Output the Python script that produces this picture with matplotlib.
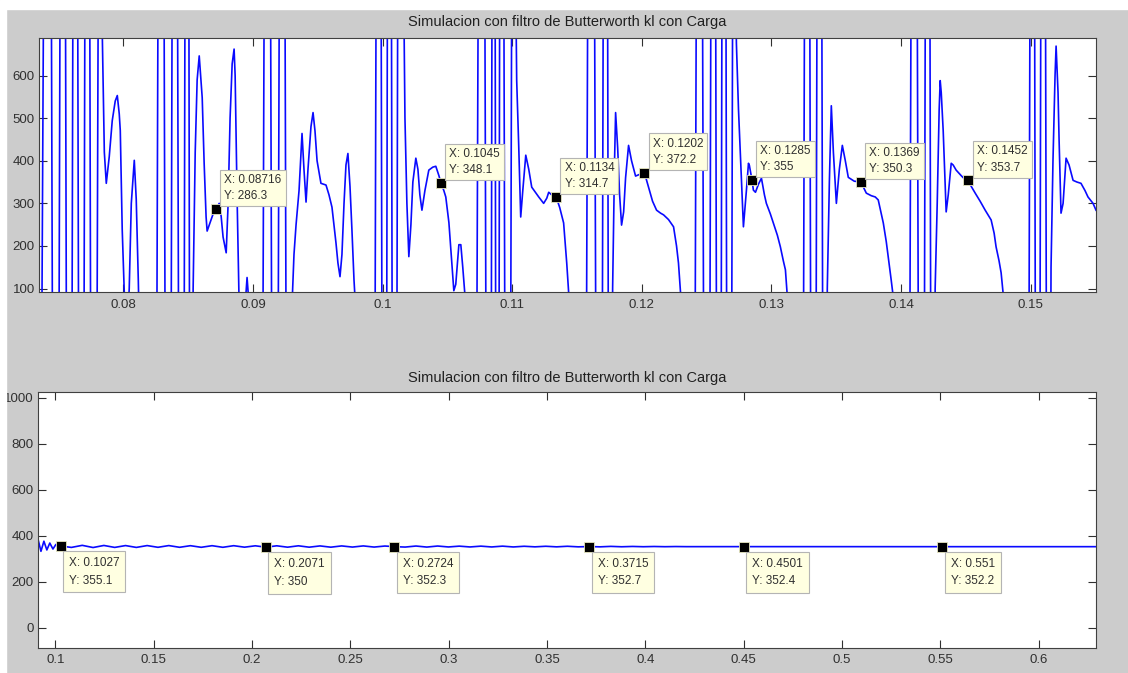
import matplotlib
matplotlib.use("Agg")
import matplotlib.pyplot as plt
from matplotlib.patches import Rectangle

plt.rcParams['font.family'] = ['Liberation Sans', 'DejaVu Sans']

title_txt = "Simulacion con filtro de Butterworth kl con Carga"

# ---- top plot: zoom on the transient (clipped ones are off scale)
t_top = [
    0.07330, 0.07422, 0.07480, 0.07534, 0.07584, 0.07630, 0.07676, 0.07723, 0.07769, 0.07815,
    0.07838, 0.07854, 0.07869, 0.07892, 0.07915, 0.07938, 0.07954, 0.07969, 0.07977, 0.07985,
    0.07992, 0.08008, 0.08023, 0.08046, 0.08062, 0.08085, 0.08100, 0.08116, 0.08131,
    0.08231, 0.08293, 0.08347, 0.08397, 0.08451, 0.08493, 0.08520, 0.08539, 0.08555, 0.08570,
    0.08586, 0.08601, 0.08609, 0.08624, 0.08639, 0.08647, 0.08670, 0.08693, 0.08716, 0.08740,
    0.08755, 0.08770, 0.08794, 0.08809, 0.08824, 0.08840, 0.08855, 0.08863, 0.08878, 0.08894,
    0.08917, 0.08940, 0.08955, 0.08971, 0.08994,
    0.09048, 0.09113, 0.09171, 0.09225, 0.09271, 0.09294, 0.09317, 0.09333, 0.09356, 0.09379,
    0.09394, 0.09410, 0.09425, 0.09448, 0.09464, 0.09479, 0.09495, 0.09525, 0.09564, 0.09587,
    0.09610, 0.09641, 0.09656, 0.09672, 0.09687, 0.09703, 0.09718, 0.09733, 0.09749, 0.09764,
    0.09780, 0.09795, 0.09818,
    0.09918, 0.09972, 0.10015, 0.10053, 0.10092, 0.10134, 0.10157, 0.10173, 0.10188, 0.10203,
    0.10219, 0.10234, 0.10257, 0.10273, 0.10288, 0.10304, 0.10327, 0.10357, 0.10388, 0.10411,
    0.10435, 0.10450, 0.10473, 0.10488, 0.10512, 0.10535, 0.10550, 0.10565, 0.10589, 0.10604,
    0.10619, 0.10642, 0.10666,
    0.10696, 0.10766, 0.10824, 0.10858, 0.10885, 0.10916, 0.10966, 0.11012, 0.11028, 0.11035,
    0.11051, 0.11066, 0.11082, 0.11105, 0.11128, 0.11151, 0.11182, 0.11205, 0.11243, 0.11267,
    0.11282, 0.11305, 0.11340, 0.11367, 0.11397, 0.11421, 0.11436, 0.11459,
    0.11544, 0.11609, 0.11675, 0.11721, 0.11752, 0.11775, 0.11790, 0.11798, 0.11814, 0.11829,
    0.11844, 0.11860, 0.11875, 0.11898, 0.11921, 0.11952, 0.11983, 0.12020, 0.12052, 0.12083,
    0.12114, 0.12145, 0.12168, 0.12206, 0.12245, 0.12268, 0.12283, 0.12299, 0.12322,
    0.12384, 0.12445, 0.12503, 0.12553, 0.12595, 0.12634, 0.12672, 0.12707, 0.12723, 0.12730,
    0.12746, 0.12769, 0.12784, 0.12807, 0.12823, 0.12830, 0.12850, 0.12861, 0.12877, 0.12900,
    0.12923, 0.12946, 0.12961, 0.12992, 0.13015, 0.13046, 0.13069, 0.13092, 0.13108, 0.13123,
    0.13146,
    0.13223, 0.13277, 0.13324, 0.13370, 0.13408, 0.13431, 0.13447, 0.13462, 0.13478, 0.13501,
    0.13524, 0.13547, 0.13570, 0.13593, 0.13639, 0.13690, 0.13732, 0.13770, 0.13801, 0.13824,
    0.13863, 0.13886, 0.13901, 0.13924, 0.13940, 0.13963,
    0.14040, 0.14102, 0.14159, 0.14206, 0.14240, 0.14263, 0.14279, 0.14294, 0.14302, 0.14310,
    0.14325, 0.14340, 0.14348, 0.14364, 0.14387, 0.14402, 0.14425, 0.14464, 0.14487, 0.14520,
    0.14541, 0.14572, 0.14610, 0.14649, 0.14695, 0.14718, 0.14733, 0.14756, 0.14772, 0.14787,
    0.14810,
    0.14964, 0.15015, 0.15053, 0.15095, 0.15134, 0.15157, 0.15172, 0.15188, 0.15196, 0.15211,
    0.15219, 0.15234, 0.15250, 0.15273, 0.15296, 0.15327, 0.15357, 0.15388, 0.15419, 0.15442,
    0.15481, 0.15504,
]
v_top = [
    -2500, 3000, -2500, 3000, -2500, 3000, -2500, 3000, -2500, 1500,
    700, 420, 347, 410, 494, 540, 553, 510, 471, 350,
    238, 90, -50, 100, 300, 401, 310, 120, -100,
    -2500, 3000, -2500, 3000, -2500, 3000, -1500, 100, 420, 590,
    646, 580, 548, 394, 268, 235, 255, 275, 286.3, 300,
    270, 221, 184, 300, 500, 627, 662, 600, 315, 60,
    -80, 60, 126, 60, -200,
    -2500, 3000, -2500, 3000, -1500, 0, 180, 250, 330, 464,
    380, 303, 380, 480, 513, 470, 400, 347, 343, 320,
    291, 207, 160, 128, 180, 300, 390, 417, 340, 238,
    120, 40, -300,
    -2500, 3000, -2500, 3000, -2500, 3000, 1000, 500, 300, 175,
    250, 350, 406, 380, 320, 284, 330, 378, 385, 387,
    365, 348.1, 330, 315, 255, 160, 95, 110, 203, 203,
    150, 60, -400,
    -2500, 3000, -2500, 3000, -2500, 3000, -2500, 2500, 800, 588,
    431, 268, 330, 413, 380, 338, 325, 315, 300, 312,
    326, 320, 314.7, 290, 254, 160, 90, -300,
    -2500, 3000, -2500, 3000, -1500, 100, 400, 513, 430, 320,
    249, 280, 360, 436, 400, 364, 368, 372.2, 338, 305,
    284, 277, 273, 262, 245, 200, 160, 90, -300,
    -2500, 3000, -2500, 3000, -2500, 3000, -2500, 1500, 800, 674,
    520, 354, 245, 330, 394, 389, 355, 331, 326, 345,
    359, 320, 300, 275, 254, 225, 198, 165, 144, 80,
    -300,
    -2500, 3000, -2500, 3000, -1500, 100, 350, 529, 420, 300,
    380, 436, 400, 361, 352, 350.3, 324, 318, 315, 308,
    254, 210, 175, 120, 80, -300,
    -2500, 3000, -2500, 3000, -1500, 100, 300, 520, 588, 560,
    471, 350, 280, 320, 394, 390, 378, 365, 358, 353.7,
    340, 324, 305, 284, 261, 230, 198, 165, 137, 90,
    -300,
    -2500, 3000, -2500, 3000, -1500, 150, 400, 600, 669, 560,
    450, 277, 300, 406, 390, 354, 350, 347, 330, 315,
    300, 284,
]
tip_t_top = [0.08716, 0.1045, 0.1134, 0.1202, 0.1285, 0.1369, 0.1452]
tip_v_top = [286.3, 348.1, 314.7, 372.2, 355, 350.3, 353.7]
xt_top = [0.08, 0.09, 0.10, 0.11, 0.12, 0.13, 0.14, 0.15]
xl_top = ["0.08", "0.09", "0.1", "0.11", "0.12", "0.13", "0.14", "0.15"]
yt_top = [100, 200, 300, 400, 500, 600]

# ---- bottom plot: full run, settles around 352
t_bot = [
    0.0912, 0.0927, 0.0942, 0.0957, 0.0972, 0.0988, 0.1003, 0.1018, 0.1027,
    0.1082, 0.1137, 0.1192, 0.1247, 0.1302, 0.1357, 0.1412, 0.1467, 0.1522, 0.1577,
    0.1632, 0.1687, 0.1742, 0.1797, 0.1852, 0.1907, 0.1962, 0.2017, 0.2071, 0.2126,
    0.2181, 0.2236, 0.2291, 0.2346, 0.2401, 0.2456, 0.2511, 0.2566, 0.2621, 0.2676,
    0.2724,
    0.2779, 0.2834, 0.2889, 0.2944, 0.2999, 0.3054, 0.3109, 0.3164, 0.3219, 0.3274,
    0.3329, 0.3384, 0.3439, 0.3494, 0.3549, 0.3604, 0.3659,
    0.3715,
    0.3770, 0.3825, 0.3880, 0.3935, 0.3990, 0.4045, 0.4100, 0.4155, 0.4210,
    0.4501, 0.5000, 0.5510, 0.6000, 0.6300,
]
v_bot = [
    385, 332, 376, 338, 368, 342, 362, 348, 355.1,
    349, 358, 348.5, 357.5, 349, 357, 349, 357, 349.5, 357,
    349.5, 356.5, 349.5, 356.5, 349.5, 356.5, 350, 356, 350, 356,
    350, 356, 350, 355.5, 350, 355.5, 350.5, 355.5, 350.5, 355,
    352.3,
    350.5, 355, 350.5, 355, 351, 354.5, 351, 354.5, 351, 354.5,
    351, 354, 351.5, 354, 351.5, 354, 351.5,
    352.7,
    351.5, 353.5, 351.8, 353.2, 352, 353, 352.1, 352.8, 352.3,
    352.4, 352.3, 352.2, 352.2, 352.2,
]
tip_t_bot = [0.1027, 0.2071, 0.2724, 0.3715, 0.4501, 0.551]
tip_v_bot = [355.1, 350, 352.3, 352.7, 352.4, 352.2]
xt_bot = [0.1, 0.15, 0.2, 0.25, 0.3, 0.35, 0.4, 0.45, 0.5, 0.55, 0.6]
xl_bot = ["0.1", "0.15", "0.2", "0.25", "0.3", "0.35", "0.4", "0.45", "0.5", "0.55", "0.6"]
yt_bot = [0, 200, 400, 600, 800, 1000]

W, H = 1128, 673
fig = plt.figure(figsize=(W / 100, H / 100), dpi=100, facecolor='#cccccc')
# white borders of the screenshot
fig.patches.append(Rectangle((0, 1 - 9 / H), 1, 9 / H, transform=fig.transFigure,
                             color='white', zorder=0))
fig.patches.append(Rectangle((0, 0), 6 / W, 1, transform=fig.transFigure,
                             color='white', zorder=0))

ax1 = fig.add_axes([39 / W, 1 - 292 / H, 1056.5 / W, 254 / H])
ax2 = fig.add_axes([38 / W, 1 - 647.5 / H, 1058 / W, 255.5 / H])


def style_axes(ax, xt, xl, yt, pad):
    ax.set_facecolor('white')
    ax.set_xticks(xt)
    ax.set_xticklabels(xl)
    ax.set_yticks(yt)
    ax.tick_params(direction='in', length=6, width=0.8, top=True, right=True,
                   labelsize=9.5, colors='#303030')
    ax.tick_params(axis='y', pad=3)
    ax.tick_params(axis='x', pad=5)
    for s in ax.spines.values():
        s.set_color('#404040')
        s.set_linewidth(0.8)
    ax.set_title(title_txt, fontsize=10.5, color='#202020', pad=pad)


ax1.plot(t_top, v_top, color='#0a0aff', lw=1.2)
ax1.set_xlim(0.0735, 0.1550)
ax1.set_ylim(92, 688)
style_axes(ax1, xt_top, xl_top, yt_top, 8.5)
for x, y in zip(tip_t_top, tip_v_top):
    ax1.plot(x, y, 's', color='black', ms=7.5, mec='#e8e8c0', mew=0.6, zorder=5)
    ax1.annotate(f"X: {x:.4g}\nY: {y:.4g}", (x, y), xytext=(6, 5),
                 textcoords='offset points', ha='left', va='bottom', fontsize=8.5,
                 color='#303030', linespacing=1.45,
                 bbox=dict(boxstyle='square,pad=0.35', fc='#ffffe1', ec='#b4b4b4', lw=0.8),
                 zorder=6, annotation_clip=False)

ax2.plot(t_bot, v_bot, color='#0a0aff', lw=1.2)
ax2.set_xlim(0.0912, 0.6292)
ax2.set_ylim(-87, 1026)
style_axes(ax2, xt_bot, xl_bot, yt_bot, 7)
for x, y in zip(tip_t_bot, tip_v_bot):
    ax2.plot(x, y, 's', color='black', ms=7.5, mec='#e8e8c0', mew=0.6, zorder=5)
    ax2.annotate(f"X: {x:.4g}\nY: {y:.4g}", (x, y), xytext=(6, -8),
                 textcoords='offset points', ha='left', va='top', fontsize=8.5,
                 color='#303030', linespacing=1.6,
                 bbox=dict(boxstyle='square,pad=0.5', fc='#ffffe1', ec='#b4b4b4', lw=0.8),
                 zorder=6, annotation_clip=False)

fig.savefig("out.png", dpi=100, facecolor=fig.get_facecolor())
